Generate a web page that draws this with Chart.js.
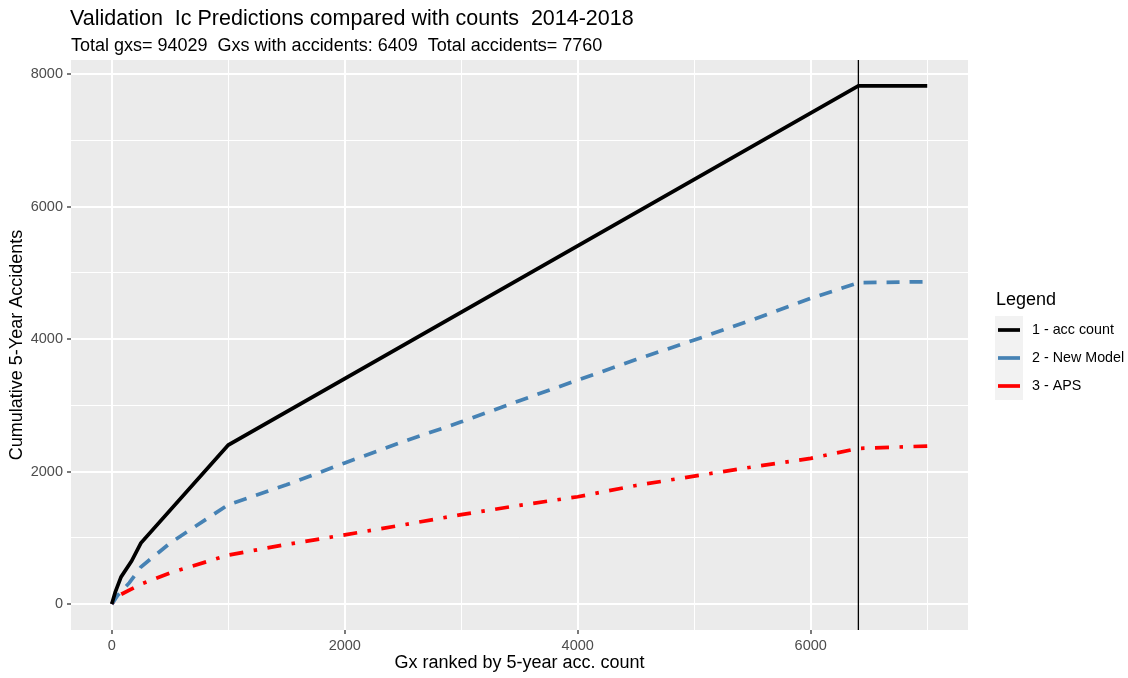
<!DOCTYPE html>
<html><head><meta charset="utf-8">
<script src="https://cdn.jsdelivr.net/npm/chart.js@4/dist/chart.umd.min.js"></script>
<style>html,body{margin:0;padding:0;background:#fff;overflow:hidden}</style>
</head><body>
<canvas id="c" width="1128" height="678"></canvas>
<script>
const titleText = "Validation  Ic Predictions compared with counts  2014-2018";
const subtitleText = "Total gxs= 94029  Gxs with accidents: 6409  Total accidents= 7760";
const xAxisTitle = "Gx ranked by 5-year acc. count";
const yAxisTitle = "Cumulative 5-Year Accidents";
const legendTitle = "Legend";
const seriesNames = ["1 - acc count", "2 - New Model", "3 - APS"];
const seriesColors = ["#000000", "#4682B4", "#FF0000"];

const accX = [0, 30, 80, 170, 250, 1000, 6409, 7000];
const accY = [0, 180, 410, 650, 920, 2400, 7820, 7820];

const newX = [0, 50, 150, 250, 500, 1000, 1500, 2000, 2500, 3000, 3500, 4000, 4500, 5000, 5500, 6000, 6409, 7000];
const newY = [0, 130, 320, 560, 920, 1500, 1800, 2130, 2450, 2750, 3070, 3380, 3690, 3985, 4290, 4614, 4850, 4865];

const apsX = [0, 50, 250, 500, 1000, 1500, 2000, 2500, 3000, 3500, 4000, 4500, 5000, 5500, 6000, 6409, 7000];
const apsY = [0, 120, 300, 470, 740, 900, 1045, 1195, 1350, 1490, 1620, 1790, 1932, 2070, 2199, 2350, 2385];

const cutoffX = 6409;

const xGridValues = [0, 1000, 2000, 3000, 4000, 5000, 6000, 7000];
const xMajorTicks = [0, 2000, 4000, 6000];
const xTickLabels = ["0", "2000", "4000", "6000"];
const yGridValues = [0, 1000, 2000, 3000, 4000, 5000, 6000, 7000, 8000];
const yMajorTicks = [0, 2000, 4000, 6000, 8000];
const yTickLabels = ["0", "2000", "4000", "6000", "8000"];

const xMin = -350, xMax = 7350;
const yMin = -391, yMax = 8211;

const FONT = "'Liberation Sans', Arial, sans-serif";

function pts(xs, ys) { return xs.map((x, i) => ({ x: x, y: ys[i] })); }

const panelBg = {
  id: 'panelBg',
  beforeDraw(chart) {
    const a = chart.chartArea, ctx = chart.ctx;
    ctx.save();
    ctx.fillStyle = '#EBEBEB';
    ctx.fillRect(a.left, a.top, a.right - a.left, a.bottom - a.top);
    ctx.restore();
  }
};

const extras = {
  id: 'extras',
  afterDatasetsDraw(chart) {
    const ctx = chart.ctx, a = chart.chartArea;
    const px = chart.scales.x.getPixelForValue(cutoffX);
    ctx.save();
    ctx.strokeStyle = '#000';
    ctx.lineWidth = 1.3;
    ctx.beginPath();
    ctx.moveTo(px, a.top);
    ctx.lineTo(px, a.bottom);
    ctx.stroke();
    ctx.restore();
  },
  afterDraw(chart) {
    const ctx = chart.ctx, a = chart.chartArea;
    ctx.save();
    ctx.fillStyle = '#000';
    ctx.textAlign = 'left';
    ctx.textBaseline = 'alphabetic';
    ctx.font = "21.5px " + FONT;
    ctx.fillText(titleText, 70, 25);
    ctx.font = "18px " + FONT;
    ctx.fillText(subtitleText, 71, 50.5);
    // axis titles
    ctx.font = "18px " + FONT;
    ctx.textAlign = 'center';
    ctx.textBaseline = 'middle';
    ctx.fillText(xAxisTitle, (a.left + a.right) / 2, 663);
    ctx.save();
    ctx.translate(17, (a.top + a.bottom) / 2);
    ctx.rotate(-Math.PI / 2);
    ctx.fillText(yAxisTitle, 0, 0);
    ctx.restore();
    // legend
    ctx.textAlign = 'left';
    ctx.font = "18px " + FONT;
    ctx.fillText(legendTitle, 996, 300);
    ctx.fillStyle = '#F2F2F2';
    ctx.fillRect(995, 316, 28, 84);
    ctx.font = "14.3px " + FONT;
    for (let i = 0; i < seriesNames.length; i++) {
      const cy = 330 + i * 28;
      ctx.strokeStyle = seriesColors[i];
      ctx.lineWidth = 3.7;
      ctx.setLineDash([]);
      ctx.beginPath();
      ctx.moveTo(998, cy);
      ctx.lineTo(1020, cy);
      ctx.stroke();
      ctx.fillStyle = '#000';
      ctx.fillText(seriesNames[i], 1032, cy);
    }
    ctx.restore();
  }
};

function gridWidth(majors) {
  return (c) => (c.tick && majors.indexOf(c.tick.value) >= 0) ? 2 : 1;
}
function tickCol(majors) {
  return (c) => (c.tick && majors.indexOf(c.tick.value) >= 0) ? '#333333' : 'rgba(0,0,0,0)';
}

new Chart(document.getElementById('c'), {
  type: 'line',
  data: {
    datasets: [
      { label: seriesNames[0], data: pts(accX, accY), borderColor: seriesColors[0], borderWidth: 3.7, pointRadius: 0, tension: 0, fill: false, order: 1 },
      { label: seriesNames[1], data: pts(newX, newY), borderColor: seriesColors[1], borderWidth: 3.7, borderDash: [13, 10], pointRadius: 0, tension: 0, fill: false, order: 2 },
      { label: seriesNames[2], data: pts(apsX, apsY), borderColor: seriesColors[2], borderWidth: 3.7, borderDash: [3.5, 10.5, 14, 10.5], pointRadius: 0, tension: 0, fill: false, order: 3 }
    ]
  },
  options: {
    responsive: false,
    animation: false,
    devicePixelRatio: 1,
    layout: { padding: { top: 60, right: 160, left: 0, bottom: 0 } },
    plugins: { legend: { display: false }, title: { display: false }, tooltip: { enabled: false } },
    scales: {
      x: {
        type: 'linear', min: xMin, max: xMax,
        afterBuildTicks: (s) => { s.ticks = xGridValues.map(v => ({ value: v })); },
        afterFit: (s) => { s.height = 48; },
        border: { display: false },
        grid: { color: '#FFFFFF', lineWidth: gridWidth(xMajorTicks), drawTicks: true, tickLength: 4, tickColor: tickCol(xMajorTicks), tickWidth: 1.3 },
        ticks: {
          autoSkip: false, maxRotation: 0, padding: 3, color: '#4D4D4D',
          font: { family: FONT, size: 14.5 },
          callback: (v) => { const i = xMajorTicks.indexOf(v); return i >= 0 ? xTickLabels[i] : ''; }
        }
      },
      y: {
        type: 'linear', min: yMin, max: yMax,
        afterBuildTicks: (s) => { s.ticks = yGridValues.map(v => ({ value: v })); },
        afterFit: (s) => { s.width = 71; },
        border: { display: false },
        grid: { color: '#FFFFFF', lineWidth: gridWidth(yMajorTicks), drawTicks: true, tickLength: 4, tickColor: tickCol(yMajorTicks), tickWidth: 1.3 },
        ticks: {
          autoSkip: false, padding: 4, color: '#4D4D4D',
          font: { family: FONT, size: 14.5 },
          callback: (v) => { const i = yMajorTicks.indexOf(v); return i >= 0 ? yTickLabels[i] : ''; }
        }
      }
    }
  },
  plugins: [panelBg, extras]
});
</script>
</body></html>
